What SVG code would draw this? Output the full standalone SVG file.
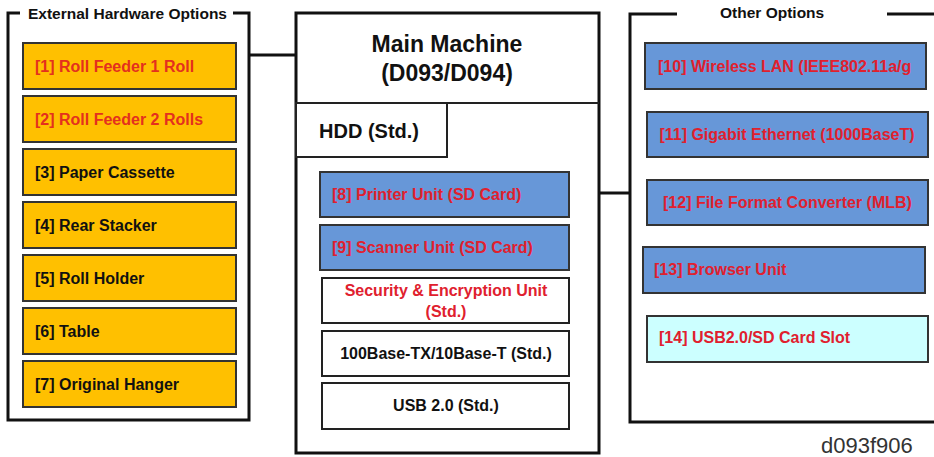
<svg xmlns="http://www.w3.org/2000/svg" width="934" height="457" viewBox="0 0 934 457">
<style>
text{font-family:"Liberation Sans",Arial,sans-serif;font-weight:bold;font-size:16px;fill:#111}
.frame{fill:none;stroke:#111;stroke-width:3}
.org{fill:#FFC000;stroke:#333;stroke-width:2}
.blu{fill:#6797D8;stroke:#333;stroke-width:2}
.wht{fill:#fff;stroke:#222;stroke-width:2}
.cyn{fill:#CCFFFF;stroke:#333;stroke-width:2}
.red{fill:#E4301E}
.redb{fill:#E0202E}
.title{font-size:15.5px}
.mid{text-anchor:middle}
.conn{fill:none;stroke:#111;stroke-width:3}
</style>
<rect width="934" height="457" fill="#fff"/>
<g id="connectors">
<line class="conn" x1="249" y1="55" x2="296" y2="55"/>
<line class="conn" x1="599" y1="193" x2="630" y2="193"/>
</g>
<g id="external-hardware-options">
<path class="frame" d="M20 13 H8 V420 H249 V13 H233"/>
<text class="title" x="28" y="19">External Hardware Options</text>
</g>
<g id="opt1"><rect class="org" x="23" y="43" width="213" height="46"/><text class="red" x="35" y="72">[1] Roll Feeder 1 Roll</text></g>
<g id="opt2"><rect class="org" x="23" y="96" width="213" height="46"/><text class="red" x="35" y="125">[2] Roll Feeder 2 Rolls</text></g>
<g id="opt3"><rect class="org" x="23" y="149" width="213" height="46"/><text x="35" y="178">[3] Paper Cassette</text></g>
<g id="opt4"><rect class="org" x="23" y="202" width="213" height="46"/><text x="35" y="231">[4] Rear Stacker</text></g>
<g id="opt5"><rect class="org" x="23" y="255" width="213" height="46"/><text x="35" y="284">[5] Roll Holder</text></g>
<g id="opt6"><rect class="org" x="23" y="308" width="213" height="46"/><text x="35" y="337">[6] Table</text></g>
<g id="opt7"><rect class="org" x="23" y="361" width="213" height="46"/><text x="35" y="390">[7] Original Hanger</text></g>
<g id="main-machine">
<rect class="frame" x="296" y="13" width="303" height="440"/>
<line stroke="#222" stroke-width="2" x1="296" y1="103" x2="599" y2="103"/>
<text class="mid" x="447" y="52" style="font-size:23px">Main Machine</text>
<text class="mid" x="447" y="81" style="font-size:23px">(D093/D094)</text>
</g>
<g id="hdd"><rect fill="#fff" stroke="#222" stroke-width="2" x="296" y="103" width="151" height="54"/><text x="319" y="138" style="font-size:20px">HDD (Std.)</text></g>
<g id="opt8"><rect class="blu" x="320" y="172" width="249" height="45"/><text class="redb" x="332" y="200">[8] Printer Unit (SD Card)</text></g>
<g id="opt9"><rect class="blu" x="320" y="225" width="249" height="45"/><text class="redb" x="332" y="253">[9] Scanner Unit (SD Card)</text></g>
<g id="security"><rect class="wht" x="322" y="278" width="247" height="45"/><text class="redb mid" x="446" y="296">Security &amp; Encryption Unit</text><text class="redb mid" x="446" y="317">(Std.)</text></g>
<g id="ethernet"><rect class="wht" x="322" y="331" width="247" height="45"/><text class="mid" x="446" y="359">100Base-TX/10Base-T (Std.)</text></g>
<g id="usb"><rect class="wht" x="322" y="383" width="247" height="46"/><text class="mid" x="446" y="411">USB 2.0 (Std.)</text></g>
<g id="other-options">
<path class="frame" d="M677 14 H630 V422 H936"/>
<line class="frame" x1="887" y1="14" x2="936" y2="14"/>
<text class="title" x="720" y="18">Other Options</text>
</g>
<g id="opt10"><rect class="blu" x="645" y="43" width="281" height="46"/><text class="redb" x="658" y="72">[10] Wireless LAN (IEEE802.11a/g</text></g>
<g id="opt11"><rect class="blu" x="647" y="112" width="281" height="45"/><text class="redb mid" x="787" y="140">[11] Gigabit Ethernet (1000BaseT)</text></g>
<g id="opt12"><rect class="blu" x="647" y="180" width="281" height="45"/><text class="redb" x="663" y="208">[12] File Format Converter (MLB)</text></g>
<g id="opt13"><rect class="blu" x="643" y="247" width="282" height="46"/><text class="redb" x="654" y="275">[13] Browser Unit</text></g>
<g id="opt14"><rect class="cyn" x="647" y="316" width="281" height="46"/><text class="redb" x="659" y="343">[14] USB2.0/SD Card Slot</text></g>
<text x="821" y="453" style="font-weight:normal;font-size:22px;fill:#333">d093f906</text>
</svg>
